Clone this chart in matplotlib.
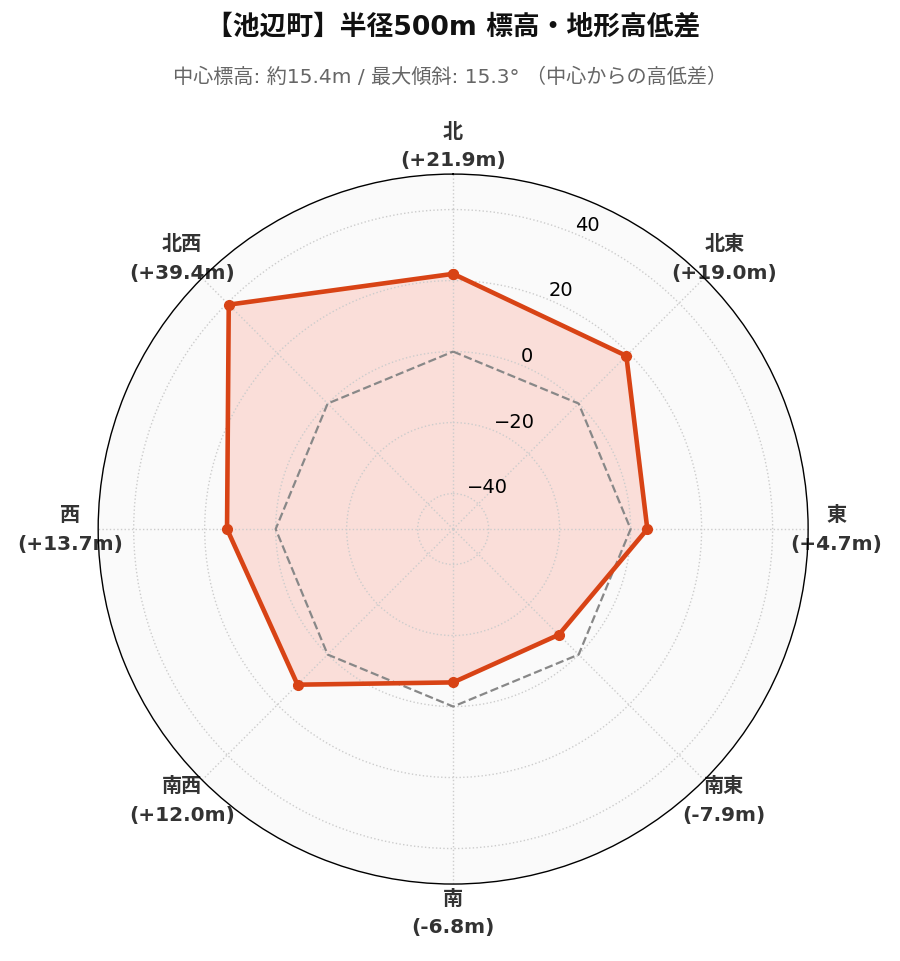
import matplotlib
matplotlib.use('Agg')

import numpy as np
import matplotlib.pyplot as plt

plt.rcParams['font.family'] = ['DejaVu Sans', 'Noto Sans CJK JP']

directions = ["北", "北東", "東", "南東", "南", "南西", "西", "北西"]
diffs = [21.9, 19.0, 4.7, -7.9, -6.8, 12.0, 13.7, 39.4]
baseline = [0, 0, 0, 0, 0, 0, 0, 0]
r_ticks = [-40, -20, 0, 20, 40]

title = "【池辺町】半径500m 標高・地形高低差"
subtitle = "中心標高: 約15.4m / 最大傾斜: 15.3° （中心からの高低差）"

angles = np.linspace(0, 2 * np.pi, len(directions), endpoint=False)
ang_c = np.append(angles, angles[0])
vals_c = np.append(diffs, diffs[0])
base_c = np.append(baseline, baseline[0])

fig = plt.figure(figsize=(9, 9.62), dpi=100)
ax = fig.add_axes([0.109, 0.08, 0.789, 0.738], projection='polar')
ax.set_theta_zero_location('N')
ax.set_theta_direction(-1)
ax.set_facecolor('#fafafa')
ax.set_ylim(-50, 50)

ax.plot(ang_c, base_c, color='#888888', lw=1.6, ls='--', zorder=2)
ax.fill(ang_c, vals_c, color='#ff6347', alpha=0.18, zorder=1)
ax.plot(ang_c, vals_c, color='#d84315', lw=3.3, marker='o', ms=7, zorder=3)

labels = ["%s\n(%+.1fm)" % (d, v) for d, v in zip(directions, diffs)]
ax.set_xticks(angles)
ax.set_xticklabels(labels, fontsize=14.5, fontweight='bold', color='#333333',
                   linespacing=1.65)
ax.tick_params(axis='x', pad=10)

ax.set_yticks(r_ticks)
ax.set_yticklabels([str(t).replace('-', '\u2212') for t in r_ticks], fontsize=14)
ax.set_rlabel_position(22.5)

ax.grid(True, color='#cccccc', ls=':', lw=1.0)
ax.spines['polar'].set_color('black')
ax.spines['polar'].set_linewidth(1.0)

fig.text(0.503, 0.971, title, ha='center', va='center', fontsize=19.3,
         fontweight='bold', color='#111111')
fig.text(0.5, 0.920, subtitle, ha='center', va='center', fontsize=14.5,
         color='#666666')

fig.savefig('out.png', dpi=100)
